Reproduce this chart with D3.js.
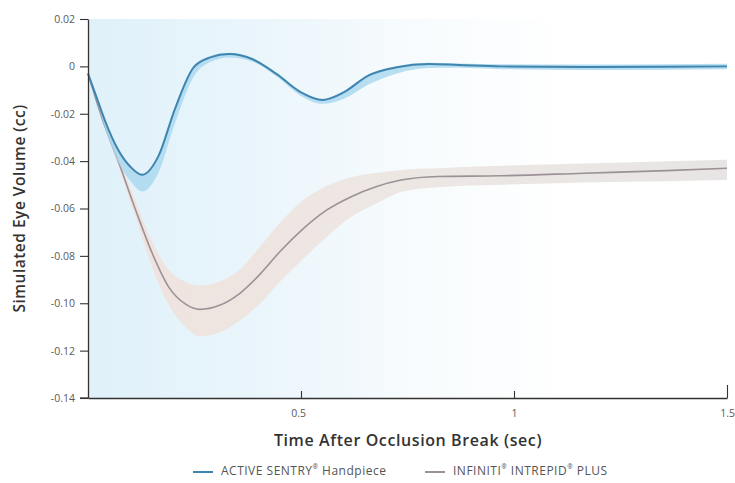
<!DOCTYPE html>
<html>
<head>
<meta charset="utf-8">
<script src="https://cdn.jsdelivr.net/npm/d3@7"></script>
<style>
  html, body { margin: 0; padding: 0; background: #fff; }
  .chart { width: 735px; height: 483px; }
</style>
</head>
<body>
<div class="chart"></div>
<script>
// ACTIVE SENTRY 곡선 (시간, 평균, 밴드 하한/상한)
const blueTime  = [0, 0.02, 0.04, 0.07, 0.10, 0.127, 0.165, 0.204, 0.248, 0.287, 0.331, 0.385, 0.443, 0.50, 0.55, 0.60, 0.657, 0.725, 0.80, 0.87, 0.97, 1.16, 1.35, 1.5];
const blueMean  = [-0.003, -0.013, -0.023, -0.035, -0.0425, -0.0458, -0.038, -0.018, -0.0004, 0.0038, 0.0052, 0.0031, -0.0033, -0.011, -0.0142, -0.011, -0.004, -0.0004, 0.001, 0.0006, 0, -0.0003, -0.0002, 0];
const blueLow   = [-0.003, -0.014, -0.026, -0.040, -0.0485, -0.0528, -0.045, -0.024, -0.0044, 0.0018, 0.0037, 0.0021, -0.0043, -0.0125, -0.0158, -0.0138, -0.0078, -0.003, -0.0007, -0.0006, -0.0012, -0.0015, -0.0014, -0.0012];
const blueHigh  = [-0.003, -0.0125, -0.0225, -0.0345, -0.042, -0.0453, -0.0375, -0.0175, 0.0001, 0.0043, 0.0057, 0.0036, -0.0028, -0.0105, -0.0137, -0.0105, -0.0035, 0.0001, 0.0015, 0.0012, 0.0009, 0.0008, 0.0009, 0.0011];

// INFINITI INTREPID PLUS 곡선
const grayTime  = [0, 0.034, 0.073, 0.112, 0.151, 0.19, 0.229, 0.263, 0.307, 0.355, 0.404, 0.453, 0.501, 0.56, 0.618, 0.676, 0.735, 0.822, 0.969, 1.163, 1.358, 1.5];
const grayMean  = [-0.003, -0.0224, -0.041, -0.0607, -0.079, -0.0933, -0.1004, -0.1026, -0.101, -0.096, -0.0877, -0.0777, -0.0692, -0.0607, -0.055, -0.0508, -0.048, -0.0465, -0.0462, -0.0451, -0.044, -0.043];
const grayHigh  = [-0.003, -0.022, -0.039, -0.057, -0.074, -0.086, -0.091, -0.0925, -0.091, -0.086, -0.076, -0.0655, -0.057, -0.0505, -0.0468, -0.045, -0.0437, -0.043, -0.042, -0.041, -0.040, -0.0394];
const grayLow   = [-0.003, -0.0228, -0.043, -0.064, -0.085, -0.101, -0.110, -0.114, -0.1125, -0.1075, -0.100, -0.0905, -0.082, -0.072, -0.0635, -0.058, -0.053, -0.051, -0.050, -0.049, -0.0485, -0.048];

// 눈금
const yTicks = [0.02, 0, -0.02, -0.04, -0.06, -0.08, -0.10, -0.12, -0.14];
const yTickLabels = ['0.02', '0', '-0.02', '-0.04', '-0.06', '-0.08', '-0.10', '-0.12', '-0.14'];
const xTicks = [0.5, 1, 1.5];
const xTickLabels = ['0.5', '1', '1.5'];

const W = 735, H = 483;
const Margin = {top: 19, bottom: 85, left: 88, right: 8};
const FontFamily = '"Open Sans", "Noto Sans", sans-serif';

const svg = d3.select('.chart').append('svg')
  .attr('width', W)
  .attr('height', H);

const xScale = d3.scaleLinear([0, 1.5], [Margin.left, W - Margin.right]);
const yScale = d3.scaleLinear([-0.14, 0.02], [H - Margin.bottom, Margin.top]);

/******************** 배경 그라데이션 ********************/
const defs = svg.append('defs');
const bg = defs.append('linearGradient').attr('id', 'bgGrad').attr('x1', 0).attr('x2', 1).attr('y1', 0).attr('y2', 0);
bg.append('stop').attr('offset', '0%').attr('stop-color', '#e0f1fa');
bg.append('stop').attr('offset', '25%').attr('stop-color', '#e9f5fb');
bg.append('stop').attr('offset', '50%').attr('stop-color', '#f7fbfd');
bg.append('stop').attr('offset', '75%').attr('stop-color', '#ffffff');

const grayGrad = defs.append('linearGradient').attr('id', 'grayGrad').attr('x1', 0).attr('x2', 1).attr('y1', 0).attr('y2', 0);
grayGrad.append('stop').attr('offset', '0%').attr('stop-color', '#efe3de');
grayGrad.append('stop').attr('offset', '50%').attr('stop-color', '#ede7e4');
grayGrad.append('stop').attr('offset', '100%').attr('stop-color', '#e7e5e4');

svg.append('rect')
  .attr('x', xScale(0))
  .attr('y', yScale(0.02))
  .attr('width', xScale(1.5) - xScale(0))
  .attr('height', yScale(-0.14) - yScale(0.02))
  .attr('fill', 'url(#bgGrad)');

/******************** 밴드 + 곡선 ********************/
const area = d3.area()
  .x(d => xScale(d.t))
  .y0(d => yScale(d.lo))
  .y1(d => yScale(d.hi))
  .curve(d3.curveMonotoneX);
const line = d3.line()
  .x(d => xScale(d.t))
  .y(d => yScale(d.v))
  .curve(d3.curveMonotoneX);

const grayData = grayTime.map((t, i) => ({t, v: grayMean[i], lo: grayLow[i], hi: grayHigh[i]}));
const blueData = blueTime.map((t, i) => ({t, v: blueMean[i], lo: blueLow[i], hi: blueHigh[i]}));

svg.append('path').datum(grayData)
  .attr('d', area)
  .attr('fill', 'url(#grayGrad)');
svg.append('path').datum(grayData)
  .attr('d', line)
  .attr('fill', 'none')
  .attr('stroke', '#9b9196')
  .attr('stroke-width', 1.6);

svg.append('path').datum(blueData)
  .attr('d', area)
  .attr('fill', '#acd8ee')
  .attr('opacity', 0.85);
svg.append('path').datum(blueData)
  .attr('d', line)
  .attr('fill', 'none')
  .attr('stroke', '#3f85b0')
  .attr('stroke-width', 2);

/******************** 축 ********************/
const yAxis = d3.axisLeft(yScale)
  .tickValues(yTicks)
  .tickFormat((d, i) => yTickLabels[i])
  .tickSize(8)
  .tickPadding(5)
  .tickSizeOuter(0);
svg.append('g')
  .attr('transform', `translate(${Margin.left}, 0)`)
  .call(yAxis)
  .call(g => g.select('.domain').attr('stroke', '#333').attr('stroke-width', 1.3))
  .call(g => g.selectAll('.tick line').attr('stroke', '#333').attr('stroke-width', 1.1))
  .selectAll('text')
    .attr('font-family', FontFamily)
    .attr('font-size', '10.5px')
    .attr('fill', '#5a5a5a');

// x축 눈금은 위쪽(안쪽)으로
const xAxis = d3.axisBottom(xScale)
  .tickValues(xTicks)
  .tickFormat((d, i) => xTickLabels[i])
  .tickSize(-7)
  .tickPadding(12)
  .tickSizeOuter(0);
svg.append('g')
  .attr('transform', `translate(0, ${yScale(-0.14)})`)
  .call(xAxis)
  .call(g => g.select('.domain').attr('stroke', '#333').attr('stroke-width', 1.3))
  .call(g => g.selectAll('.tick line').attr('stroke', '#333').attr('stroke-width', 1.1)
    .attr('y2', d => d === 1.5 ? -13 : -7))
  .selectAll('text')
    .attr('font-family', FontFamily)
    .attr('font-size', '10.5px')
    .attr('fill', '#5a5a5a')
    .attr('dx', d => d === 0.5 ? -3 : 0);

// x축 선을 y축 눈금 끝까지 연장
svg.append('line')
  .attr('x1', Margin.left - 8).attr('x2', Margin.left)
  .attr('y1', yScale(-0.14)).attr('y2', yScale(-0.14))
  .attr('stroke', '#333').attr('stroke-width', 1.3);

/******************** 축 제목 ********************/
svg.append('text')
  .attr('transform', `translate(25, ${(yScale(0.02) + yScale(-0.14)) / 2}) rotate(-90)`)
  .attr('text-anchor', 'middle')
  .attr('font-family', FontFamily)
  .attr('font-size', '15.5px')
  .attr('font-weight', 600)
  .attr('letter-spacing', '0.5px')
  .attr('fill', '#333')
  .text('Simulated Eye Volume (cc)');

svg.append('text')
  .attr('x', 408)
  .attr('y', 446)
  .attr('text-anchor', 'middle')
  .attr('font-family', FontFamily)
  .attr('font-size', '16px')
  .attr('font-weight', 600)
  .attr('letter-spacing', '0.6px')
  .attr('fill', '#333')
  .text('Time After Occlusion Break (sec)');

/******************** 범례 ********************/
const legendItems = [
  {x: 193, color: '#3f85b0', parts: ['ACTIVE SENTRY', '®', ' Handpiece']},
  {x: 425, color: '#9b9196', parts: ['INFINITI', '®', ' INTREPID', '®', ' PLUS']}
];
const legend = svg.append('g').selectAll('g')
  .data(legendItems)
  .join('g')
    .attr('transform', d => `translate(${d.x}, 472)`);
legend.append('line')
  .attr('x1', 0).attr('x2', 20)
  .attr('stroke', d => d.color)
  .attr('stroke-width', 2);
legend.append('text')
  .attr('x', 28)
  .attr('y', 0)
  .attr('dominant-baseline', 'middle')
  .attr('font-family', FontFamily)
  .attr('font-size', '12px')
  .attr('letter-spacing', '0.5px')
  .attr('fill', '#555')
  .selectAll('tspan')
  .data(d => d.parts)
  .join('tspan')
    .attr('font-size', p => p === '®' ? '6.5px' : null)
    .attr('baseline-shift', p => p === '®' ? 'super' : null)
    .text(p => p);
</script>
</body>
</html>
